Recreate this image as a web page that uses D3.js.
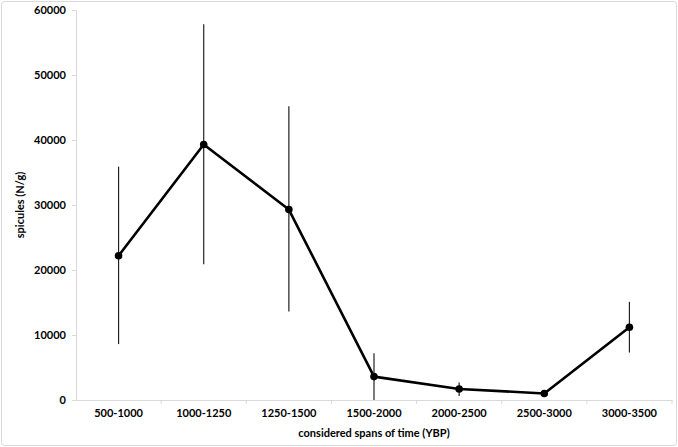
<!DOCTYPE html>
<html lang="en">
<head>
<meta charset="utf-8">
<script src="https://cdn.jsdelivr.net/npm/d3@7"></script>
<style>
    body { margin: 0; background: #fff; }
    .axis text { font-family: Lato, "Open Sans", sans-serif; font-weight: bold; font-size: 11px; fill: #000; }
    .axis path, .axis line { stroke: #d9d9d9; }
</style>
</head>
<body>
<script>
    let w = 678;
    let h = 447;

    // data
    const categories = ["500-1000", "1000-1250", "1250-1500", "1500-2000", "2000-2500", "2500-3000", "3000-3500"];
    const means = [22200, 39300, 29300, 3600, 1700, 1000, 11200];
    const errUpper = [35900, 57800, 45200, 7200, 2700, 1100, 15100];
    const errLower = [8600, 20900, 13600, 0, 600, 900, 7300];
    const yTicks = [0, 10000, 20000, 30000, 40000, 50000, 60000];

    let padLeft = 76, padRight = 672, padTop = 10, padBottom = 400;

    let svg = d3.select("body")
        .append("svg")
        .attr("width", w)
        .attr("height", h);

    // chart border
    svg.append("rect")
        .attr("x", 1.5).attr("y", 1.5)
        .attr("width", w - 3).attr("height", h - 3)
        .attr("rx", 3)
        .attr("fill", "none")
        .attr("stroke", "#d9d9d9");

    let xScale = d3.scaleBand()
        .domain(categories)
        .range([padLeft, padRight]);

    let yScale = d3.scaleLinear()
        .domain([0, 60000])
        .range([padBottom, padTop]);

    // y axis
    svg.append("g")
        .attr("class", "axis")
        .attr("transform", `translate(${padLeft},0)`)
        .call(d3.axisLeft(yScale).tickValues(yTicks).tickSizeOuter(0).tickSize(4).tickPadding(6).tickFormat(d3.format("d")));

    // x axis, ticks at band edges
    let xAxis = svg.append("g")
        .attr("class", "axis")
        .attr("transform", `translate(0,${padBottom})`)
        .call(d3.axisBottom(xScale).tickSize(0).tickPadding(9));
    xAxis.selectAll(".edge")
        .data(categories)
        .join("line")
        .attr("class", "edge")
        .attr("x1", d => xScale(d) + xScale.bandwidth())
        .attr("x2", d => xScale(d) + xScale.bandwidth())
        .attr("y1", 0).attr("y2", 4)
        .attr("stroke", "#d9d9d9");

    let cx = d => xScale(d) + xScale.bandwidth() / 2;

    // error bars
    svg.append("g")
        .selectAll("line")
        .data(categories)
        .join("line")
        .attr("x1", d => cx(d))
        .attr("x2", d => cx(d))
        .attr("y1", (d, i) => yScale(errUpper[i]))
        .attr("y2", (d, i) => yScale(errLower[i]))
        .attr("stroke", "#222")
        .attr("stroke-width", 1.2);

    // mean line
    let line = d3.line()
        .x((d, i) => cx(categories[i]))
        .y(d => yScale(d));

    svg.append("path")
        .datum(means)
        .attr("d", line)
        .attr("fill", "none")
        .attr("stroke", "#000")
        .attr("stroke-width", 2.6)
        .attr("stroke-linejoin", "round");

    svg.append("g")
        .selectAll("circle")
        .data(means)
        .join("circle")
        .attr("cx", (d, i) => cx(categories[i]))
        .attr("cy", d => yScale(d))
        .attr("r", 3.8)
        .attr("fill", "#000");

    // axis titles
    svg.append("text")
        .attr("x", (padLeft + padRight) / 2)
        .attr("y", 437)
        .attr("text-anchor", "middle")
        .style("font-family", "Lato, 'Open Sans', sans-serif")
        .style("font-weight", "bold")
        .style("font-size", "11px")
        .text("considered spans of time (YBP)");

    svg.append("text")
        .attr("transform", `translate(24,${(padTop + padBottom) / 2}) rotate(-90)`)
        .attr("text-anchor", "middle")
        .style("font-family", "Lato, 'Open Sans', sans-serif")
        .style("font-weight", "bold")
        .style("font-size", "11px")
        .text("spicules (N/g)");
</script>
</body>
</html>
